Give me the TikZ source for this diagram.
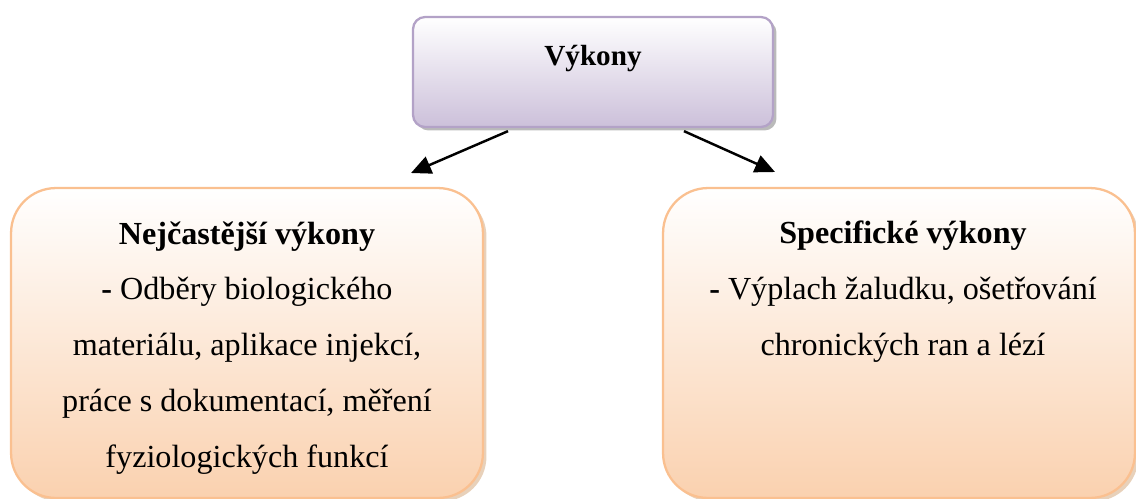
\documentclass[tikz,border=0pt]{standalone}
\usepackage{fontspec}
\setmainfont{Liberation Serif}
\usepackage{xcolor}
\usetikzlibrary{arrows.meta,positioning,shadows}

\definecolor{lavline}{HTML}{B3A2C7}
\definecolor{lavfill}{HTML}{CCC0DA}
\definecolor{peachline}{HTML}{FAC090}
\definecolor{peachfill}{HTML}{FAD1AF}

\begin{document}
\begin{tikzpicture}[x=0.02cm, y=-0.02cm,
  font={\fontsize{18.3}{31.8}\selectfont},
  topbox/.style={draw=lavline, line width=1.3pt, rounded corners=2.4mm,
              top color=white, bottom color=lavfill,
              drop shadow={shadow xshift=0.7mm, shadow yshift=-0.7mm, fill=black!45, opacity=0.6},
              minimum width=7.2cm, minimum height=2.2cm, inner sep=0pt,
              font={\fontsize{16.6}{20}\selectfont\bfseries},
              text height=0.4cm, text depth=0.68cm},
  subbox/.style={draw=peachline, line width=1.3pt, rounded corners=9mm,
              top color=white, bottom color=peachfill,
              drop shadow={shadow xshift=0.7mm, shadow yshift=-0.7mm, fill=brown!60, opacity=0.6},
              minimum width=9.44cm, minimum height=6.2cm, inner sep=0pt},
  txt/.style={align=center, inner sep=0pt, anchor=north},
  arr/.style={-{Triangle[length=4mm, width=3.6mm]}, line width=1.4pt}]
\useasboundingbox (0,0) rectangle (1136,498);
% --- top box ---
\node[topbox] (top) at (593,72) {Výkony};
% --- lower boxes ---
\node[subbox] (left) at (247,343) {};
\node[subbox] (right) at (899,343) {};
\node[txt] (lefttxt) at (247,221) {\textbf{Nejčastější výkony}\\
  \textbf{-} Odběry biologického\\ materiálu, aplikace injekcí,\\
  práce s dokumentací, měření\\ fyziologických funkcí};
\node[txt] (righttxt) at (903,221) {\textbf{Specifické výkony}\\
  \textbf{-} Výplach žaludku, ošetřování\\ chronických ran a lézí};
% --- arrows ---
\coordinate (lefttip) at (411,173);
\coordinate (righttip) at (775,172);
\draw[arr] ([xshift=-1.7cm, yshift=-0.06cm]top.south) -- (lefttip);
\draw[arr] ([xshift=1.82cm, yshift=-0.06cm]top.south) -- (righttip);
\end{tikzpicture}
\end{document}
